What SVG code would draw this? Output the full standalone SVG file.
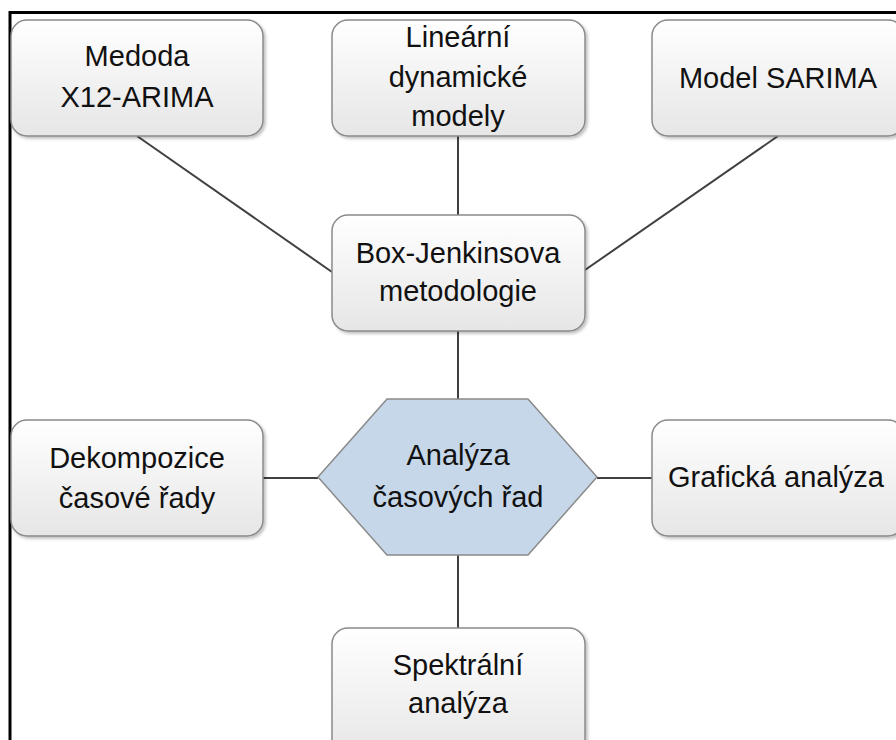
<svg xmlns="http://www.w3.org/2000/svg" width="896" height="740" viewBox="0 0 896 740">
<defs>
<linearGradient id="g" x1="0" y1="0" x2="0" y2="1">
<stop offset="0" stop-color="#ffffff"/>
<stop offset="1" stop-color="#e6e6e6"/>
</linearGradient>
<filter id="sh" x="-10%" y="-10%" width="130%" height="130%">
<feDropShadow dx="2" dy="2" stdDeviation="1.5" flood-color="#000" flood-opacity="0.25"/>
</filter>
</defs>
<style>
.box{fill:url(#g);stroke:#8a8a8a;stroke-width:1.5;filter:url(#sh)}
.hex{fill:#c6d7e9;stroke:#8a8a8a;stroke-width:1.5}
.t{font-family:"Liberation Sans",Arial,sans-serif;font-size:29px;fill:#111;text-anchor:middle}
.c{stroke:#404040;stroke-width:2;fill:none}
</style>
<rect x="0" y="0" width="896" height="740" fill="#fff"/>
<path d="M10 742 V12.5 H900" fill="none" stroke="#000" stroke-width="3"/>
<g id="connectors">
<line class="c" x1="137" y1="136" x2="332" y2="272"/>
<line class="c" x1="458" y1="136" x2="458" y2="215"/>
<line class="c" x1="778" y1="136" x2="585" y2="270"/>
<line class="c" x1="458" y1="331" x2="458" y2="399"/>
<line class="c" x1="263" y1="478" x2="318" y2="478"/>
<line class="c" x1="597" y1="478" x2="652" y2="478"/>
<line class="c" x1="458" y1="555" x2="458" y2="628"/>
</g>
<g id="medoda">
<rect class="box" x="11" y="20" width="252" height="116" rx="16"/>
<text class="t" x="137" y="66">Medoda</text>
<text class="t" x="137" y="107">X12-ARIMA</text>
</g>
<g id="linearni">
<rect class="box" x="332" y="20" width="253" height="116" rx="16"/>
<text class="t" x="458" y="47">Lineární</text>
<text class="t" x="458" y="87">dynamické</text>
<text class="t" x="458" y="126">modely</text>
</g>
<g id="sarima">
<rect class="box" x="652" y="20" width="252" height="116" rx="16"/>
<text class="t" x="778" y="88">Model SARIMA</text>
</g>
<g id="boxjenkins">
<rect class="box" x="332" y="215" width="253" height="116" rx="16"/>
<text class="t" x="458" y="263">Box-Jenkinsova</text>
<text class="t" x="458" y="301">metodologie</text>
</g>
<g id="dekompozice">
<rect class="box" x="11" y="420" width="252" height="116" rx="16"/>
<text class="t" x="137" y="468">Dekompozice</text>
<text class="t" x="137" y="508">časové řady</text>
</g>
<g id="analyza">
<polygon class="hex" points="318,477 387,399 528,399 597,477 528,555 387,555"/>
<text class="t" x="458" y="465">Analýza</text>
<text class="t" x="458" y="507">časových řad</text>
</g>
<g id="graficka">
<rect class="box" x="652" y="420" width="252" height="116" rx="16"/>
<text class="t" x="776" y="487">Grafická analýza</text>
</g>
<g id="spektralni">
<rect class="box" x="332" y="628" width="253" height="130" rx="16"/>
<text class="t" x="458" y="675">Spektrální</text>
<text class="t" x="458" y="713">analýza</text>
</g>
</svg>
